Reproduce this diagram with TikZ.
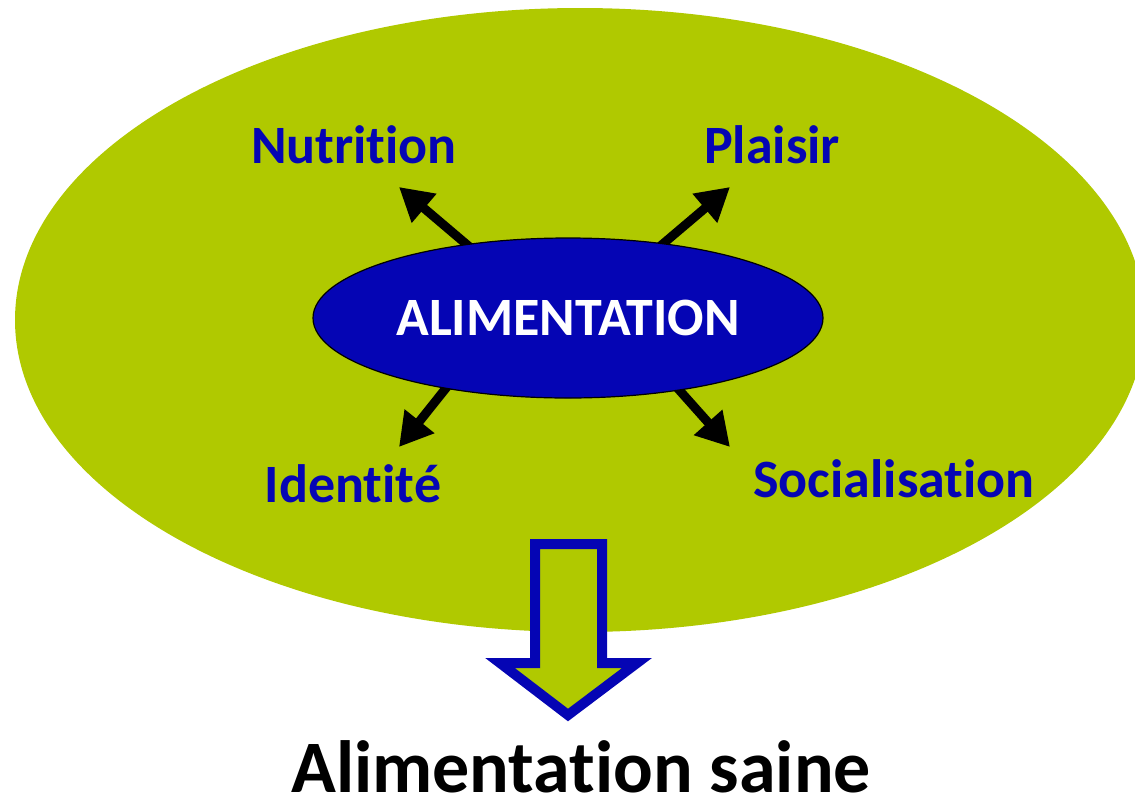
\documentclass[tikz,border=0pt]{standalone}
\usepackage{fontspec}
\setmainfont[Ligatures = NoCommon]{Carlito}
\usetikzlibrary{arrows.meta,shapes.geometric,backgrounds}
\definecolor{vertpomme}{RGB}{176,201,0}
\definecolor{bleunuit}{RGB}{5,5,180}
\tikzset{
    fleche/.style = {line width = 9pt, -{Triangle[length = 33pt, width = 36pt]}, shorten <= -6pt},
    etiquette/.style = {text = bleunuit, font = \fontsize{54}{60}\selectfont\bfseries, anchor = base, inner sep = 0pt},
}
\begin{document}
\begin{tikzpicture}[x = 1pt, y = -1pt]
%\draw [help lines] (0,0) grid[step=100] (1135,801);
    \useasboundingbox (0,0) rectangle (1135,801);
    \node [ellipse, draw = black, line width = 1.2pt, fill = bleunuit, minimum width = 510pt, minimum height = 160pt,
           inner sep = 0pt, text = white, font = \fontsize{54}{60}\selectfont\bfseries] (alim) at (568,318) {ALIMENTATION};
    \node [etiquette] (nutrition) at (354,163) {Nutrition};
    \node [etiquette] (plaisir) at (772,163) {Plaisir};
    \node [etiquette] (identite) at (353,502) {Identité};
    \node [etiquette] (social) at (894,497) {Socialisation};
    \coordinate (pn) at (399,187);
    \coordinate (pp) at (730,187);
    \coordinate (pi) at (399,447);
    \coordinate (ps) at (730,447);
    \begin{scope}[on background layer]
        \fill [vertpomme] (580,320) circle [x radius = 565, y radius = 312];
        \draw [fleche] (alim.144) -- (pn);
        \draw [fleche] (alim.38) -- (pp);
        \draw [fleche] (alim.210) -- (pi);
        \draw [fleche] (alim.327) -- (ps);
    \end{scope}
    \draw [bleunuit, fill = vertpomme, line width = 10pt, miter limit = 10]
        (535,544) -- (602,544) -- (602,663) -- (637,663) -- (568,715) -- (500,663) -- (535,663) -- cycle;
    \node [anchor = base, inner sep = 0pt, font = \fontsize{74}{80}\selectfont\bfseries] (saine) at (581,792) {Alimentation saine};
\end{tikzpicture}
\end{document}
